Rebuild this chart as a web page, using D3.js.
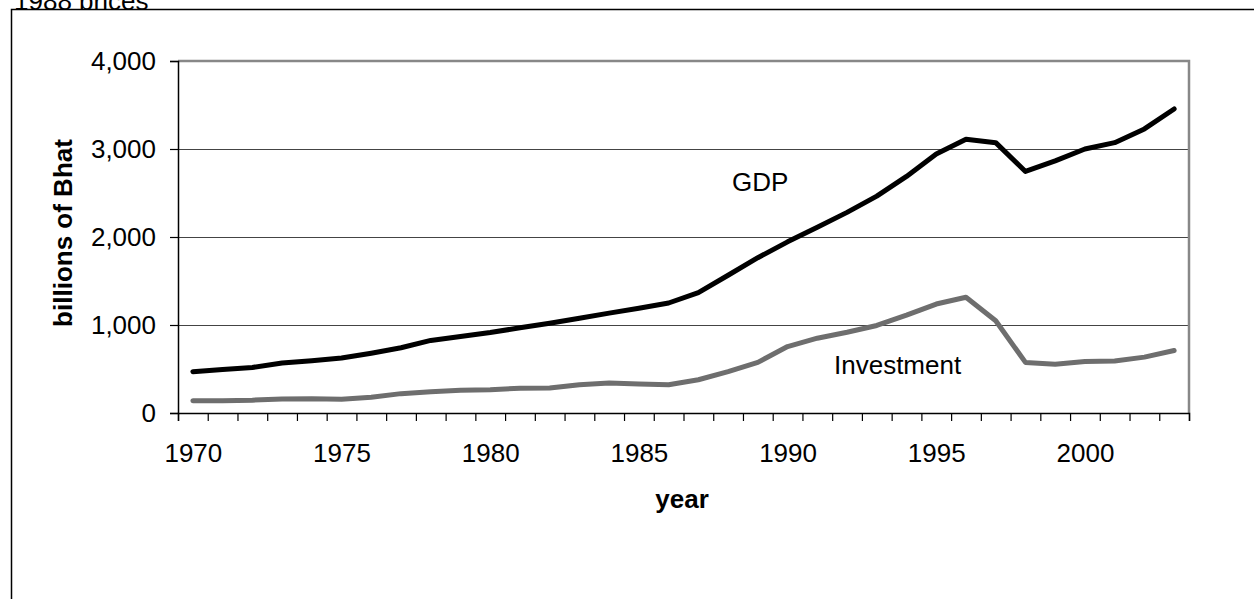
<!DOCTYPE html>
<html>
<head>
<meta charset="utf-8">
<script src="https://cdn.jsdelivr.net/npm/d3@7/dist/d3.min.js"></script>
<style>
  html, body { margin: 0; padding: 0; background: #fff; }
  svg { display: block; font-family: Arial, "Liberation Sans", sans-serif; }
</style>
</head>
<body>
<svg id="chart" width="1254" height="599"></svg>
<script>
const years = d3.range(1970, 2004);
const gdp = [470, 495, 518, 568, 595, 625, 680, 742, 825, 870, 915, 968, 1020, 1077, 1135, 1190, 1250, 1368, 1565, 1765, 1945, 2110, 2280, 2465, 2688, 2942, 3110, 3072, 2745, 2865, 3000, 3072, 3228, 3455];
const investment = [138, 140, 146, 160, 162, 155, 180, 220, 242, 258, 265, 282, 284, 322, 340, 330, 322, 378, 470, 575, 755, 850, 918, 995, 1112, 1238, 1315, 1049, 575, 555, 585, 592, 635, 710];
const yTicks = [0, 1000, 2000, 3000, 4000];
const xLabelYears = [1970, 1975, 1980, 1985, 1990, 1995, 2000];
const seriesNames = ["GDP", "Investment"];
const titleText = "1988 prices";
const yTitle = "billions of Bhat";
const xTitle = "year";

const svg = d3.select("#chart");
const L = 178, R = 1189, T = 61, B = 413;
const FS = 26;

// title (mostly hidden behind chart area, as in the reference)
svg.append("text").attr("x", 14).attr("y", 10).attr("font-size", FS).attr("fill", "#000").text(titleText);

// outer chart area
svg.append("rect").attr("x", 11.5).attr("y", 9.5).attr("width", 1260).attr("height", 620)
  .attr("fill", "#fff").attr("stroke", "#000").attr("stroke-width", 1.5);

const x = d3.scaleLinear().domain([1969.5, 2003.5]).range([L, R]);
const y = d3.scaleLinear().domain([0, 4000]).range([B, T]);

// gridlines
svg.append("g").selectAll("line").data(yTicks.filter(d => d > 0 && d < 4000)).join("line")
  .attr("x1", L).attr("x2", R).attr("y1", d => y(d) + 0.5).attr("y2", d => y(d) + 0.5)
  .attr("stroke", "#444").attr("stroke-width", 1).attr("shape-rendering", "crispEdges");

// plot border top & right (grey)
svg.append("path").attr("d", `M${L},${T}H${R}V${B}`).attr("fill", "none")
  .attr("stroke", "#888").attr("stroke-width", 2.5);

// y axis
const yAxis = svg.append("g").attr("transform", `translate(${L},0)`)
  .call(d3.axisLeft(y).tickValues(yTicks).tickSize(8).tickPadding(14).tickFormat(d3.format(",")));
yAxis.select(".domain").attr("stroke", "#000").attr("stroke-width", 1.5);
yAxis.selectAll(".tick line").attr("stroke", "#000").attr("stroke-width", 1.2);
yAxis.selectAll("text").attr("font-size", FS).attr("font-family", "Arial, 'Liberation Sans', sans-serif").attr("fill", "#000");

// x axis ticks at category boundaries
const boundaries = d3.range(1969.5, 2004, 1);
const xAxis = svg.append("g").attr("transform", `translate(0,${B})`)
  .call(d3.axisBottom(x).tickValues(boundaries).tickSize(8).tickFormat(""));
xAxis.select(".domain").attr("stroke", "#000").attr("stroke-width", 1.5);
xAxis.selectAll(".tick line").attr("stroke", "#000").attr("stroke-width", 1.2);

const xLab = svg.append("g").attr("transform", `translate(0,${B})`)
  .call(d3.axisBottom(x).tickValues(xLabelYears).tickSize(0).tickPadding(31).tickFormat(d3.format("d")));
xLab.select(".domain").remove();
xLab.selectAll("text").attr("font-size", FS).attr("font-family", "Arial, 'Liberation Sans', sans-serif").attr("fill", "#000");

// lines
const line = d3.line().x((d, i) => x(years[i])).y(d => y(d));
svg.append("path").datum(investment).attr("d", line).attr("fill", "none")
  .attr("stroke", "#6e6e6e").attr("stroke-width", 5).attr("stroke-linejoin", "round").attr("stroke-linecap", "round");
svg.append("path").datum(gdp).attr("d", line).attr("fill", "none")
  .attr("stroke", "#000").attr("stroke-width", 5).attr("stroke-linejoin", "round").attr("stroke-linecap", "round");

// series labels
svg.append("text").attr("x", 732).attr("y", 191).attr("font-size", FS).text(seriesNames[0]);
svg.append("text").attr("x", 834).attr("y", 374).attr("font-size", FS).text(seriesNames[1]);

// axis titles
svg.append("text").attr("x", 682).attr("y", 508).attr("text-anchor", "middle")
  .attr("font-size", FS).attr("font-weight", "bold").text(xTitle);
svg.append("text").attr("transform", "translate(72,233) rotate(-90)").attr("text-anchor", "middle")
  .attr("font-size", FS).attr("font-weight", "bold").text(yTitle);
</script>
</body>
</html>
